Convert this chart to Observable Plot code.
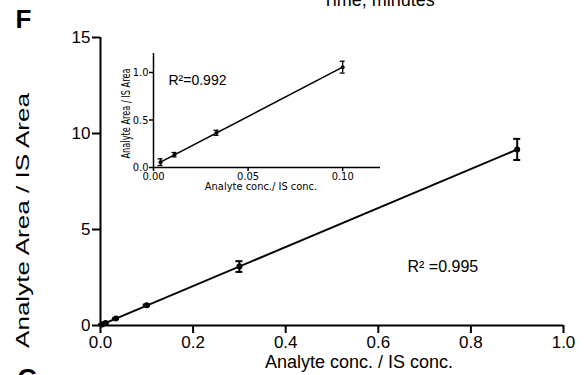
<!DOCTYPE html>
<html><head><meta charset="utf-8">
<script src="https://cdn.jsdelivr.net/npm/d3@7"></script>
<script src="https://cdn.jsdelivr.net/npm/@observablehq/plot@0.6"></script>
<style>
body{margin:0;background:#fff;}
#wrap{position:relative;width:584px;height:375px;overflow:hidden;background:#fff;}
#main{position:absolute;left:0;top:0;}
#inset{position:absolute;left:100px;top:40px;}
</style></head><body><div id="wrap"><div id="main"></div><div id="inset"></div></div>
<script>
// Main calibration data
const conc = [0.0037, 0.0111, 0.0333, 0.1, 0.3, 0.9];
const ratio = [0.055, 0.135, 0.36, 1.05, 3.07, 9.17];
const ratioErr = [0.02, 0.025, 0.02, 0.04, 0.28, 0.55];
// Inset (low range) data
const insetConc = [0.0037, 0.0111, 0.0333, 0.1];
const insetRatio = [0.056, 0.135, 0.365, 1.056];
const insetErr = [0.035, 0.023, 0.027, 0.062];
// Ticks
const xTicks = [0, 0.2, 0.4, 0.6, 0.8, 1.0];
const yTicks = [0, 5, 10, 15];
const insetXTicks = [0, 0.05, 0.10];
const insetYTicks = [0, 0.5, 1.0];
// Texts
const xTitle = "Analyte conc. / IS conc.";
const yTitle = "Analyte Area / IS Area";
const insetXTitle = "Analyte conc./ IS conc.";
const insetYTitle = "Analyte Area / IS Area";
const r2Main = "R\u00B2 =0.995";
const r2Inset = "R\u00B2=0.992";

const rows = conc.map((x, i) => ({x, y: ratio[i], e: ratioErr[i]}));
const insetRows = insetConc.map((x, i) => ({x, y: insetRatio[i], e: insetErr[i]}));

const sans = "'Liberation Sans', Arial, Helvetica, sans-serif";
const narrow = "'Liberation Sans Narrow', 'DejaVu Sans Condensed', 'Arial Narrow', sans-serif";

function stretch(svg, label, len) {
  d3.select(svg).selectAll("text").filter(function(){ return this.textContent === label; })
    .attr("text-anchor", "start").attr("x", -len / 2)
    .attr("textLength", len).attr("lengthAdjust", "spacingAndGlyphs");
}

const main = Plot.plot({
  width: 584, height: 375,
  marginLeft: 100, marginRight: 21, marginTop: 37, marginBottom: 50,
  style: {fontFamily: sans, fontSize: "17px", color: "#000", background: "transparent", overflow: "visible"},
  x: {domain: [0, 1]},
  y: {domain: [0, 15]},
  marks: [
    Plot.axisX({ticks: xTicks, tickSize: 8, tickPadding: 2, strokeWidth: 2, tickFormat: d3.format(".1f"), label: null, fontSize: 17}),
    Plot.axisY({ticks: yTicks, tickSize: 8, tickPadding: 2, strokeWidth: 2, tickFormat: d3.format("d"), label: null, fontSize: 17}),
    Plot.ruleX([0], {y1: 0, y2: 15, strokeWidth: 2}),
    Plot.ruleY([0], {x1: 0, x2: 1, strokeWidth: 2}),
    Plot.linearRegressionY(rows, {x: "x", y: "y", ci: 0, stroke: "#000", strokeWidth: 2}),
    Plot.ruleX(rows, {x: "x", y1: d => d.y - d.e, y2: d => d.y + d.e, strokeWidth: 2}),
    Plot.ruleY(rows, {y: d => d.y + d.e, x1: "x", x2: "x", insetLeft: -3.5, insetRight: -3.5, strokeWidth: 2}),
    Plot.ruleY(rows, {y: d => d.y - d.e, x1: "x", x2: "x", insetLeft: -3.5, insetRight: -3.5, strokeWidth: 2}),
    Plot.dot(rows, {x: "x", y: "y", r: 3, fill: "#000", stroke: null}),
    Plot.text([xTitle], {frameAnchor: "bottom", dx: 27, dy: 30, lineAnchor: "top", fontSize: 18}),
    Plot.text([yTitle], {frameAnchor: "left", dx: -77, dy: 39, rotate: -90, textAnchor: "middle", lineAnchor: "middle", fontSize: 18}),
    Plot.text([r2Main], {frameAnchor: "top-left", dx: 307, dy: 229, textAnchor: "start", lineAnchor: "middle", fontSize: 16}),
    Plot.text(["Time, minutes"], {frameAnchor: "top-left", dx: 222, dy: -32, textAnchor: "start", lineAnchor: "bottom", fontSize: 18}),
    Plot.text(["F"], {frameAnchor: "top-left", dx: -85, dy: -28, textAnchor: "start", lineAnchor: "top", fontSize: 26, fontWeight: "bold"}),
    Plot.text(["G"], {frameAnchor: "bottom-left", dx: -83, dy: 43, textAnchor: "start", lineAnchor: "top", fontSize: 26, fontWeight: "bold"})
  ]
});
document.getElementById("main").appendChild(main);
stretch(main, yTitle, 255);

const inset = Plot.plot({
  width: 290, height: 160,
  marginLeft: 53, marginRight: 10, marginTop: 13, marginBottom: 33,
  style: {fontFamily: narrow, fontSize: "11px", color: "#000", background: "transparent", overflow: "visible"},
  x: {domain: [0, 0.12]},
  y: {domain: [0, 1.2]},
  marks: [
    Plot.axisX({ticks: insetXTicks, tickSize: 4, tickPadding: 1, strokeWidth: 1.5, tickFormat: d3.format(".2f"), label: null, fontSize: 11}),
    Plot.axisY({ticks: insetYTicks, tickSize: 4, tickPadding: 1, strokeWidth: 1.5, tickFormat: d3.format(".1f"), label: null, fontSize: 11}),
    Plot.ruleX([0], {y1: 0, y2: 1.2, strokeWidth: 1.5}),
    Plot.ruleY([0], {x1: 0, x2: 0.12, strokeWidth: 1.5}),
    Plot.linearRegressionY(insetRows, {x: "x", y: "y", ci: 0, stroke: "#000", strokeWidth: 1.5}),
    Plot.ruleX(insetRows, {x: "x", y1: d => d.y - d.e, y2: d => d.y + d.e, strokeWidth: 1.3}),
    Plot.ruleY(insetRows, {y: d => d.y + d.e, x1: "x", x2: "x", insetLeft: -2.5, insetRight: -2.5, strokeWidth: 1.3}),
    Plot.ruleY(insetRows, {y: d => d.y - d.e, x1: "x", x2: "x", insetLeft: -2.5, insetRight: -2.5, strokeWidth: 1.3}),
    Plot.dot(insetRows, {x: "x", y: "y", r: 2, fill: "#000", stroke: null}),
    Plot.text([insetXTitle], {frameAnchor: "bottom", dx: -6, dy: 19, lineAnchor: "middle", fontSize: 11}),
    Plot.text([insetYTitle], {frameAnchor: "left", dx: -27, dy: 3, rotate: -90, textAnchor: "middle", lineAnchor: "middle", fontSize: 11.5}),
    Plot.text([r2Inset], {frameAnchor: "top-left", dx: 15, dy: 27, textAnchor: "start", lineAnchor: "middle", fontSize: 14, fontFamily: sans})
  ]
});
document.getElementById("inset").appendChild(inset);
stretch(inset, insetYTitle, 90);
</script></body></html>
